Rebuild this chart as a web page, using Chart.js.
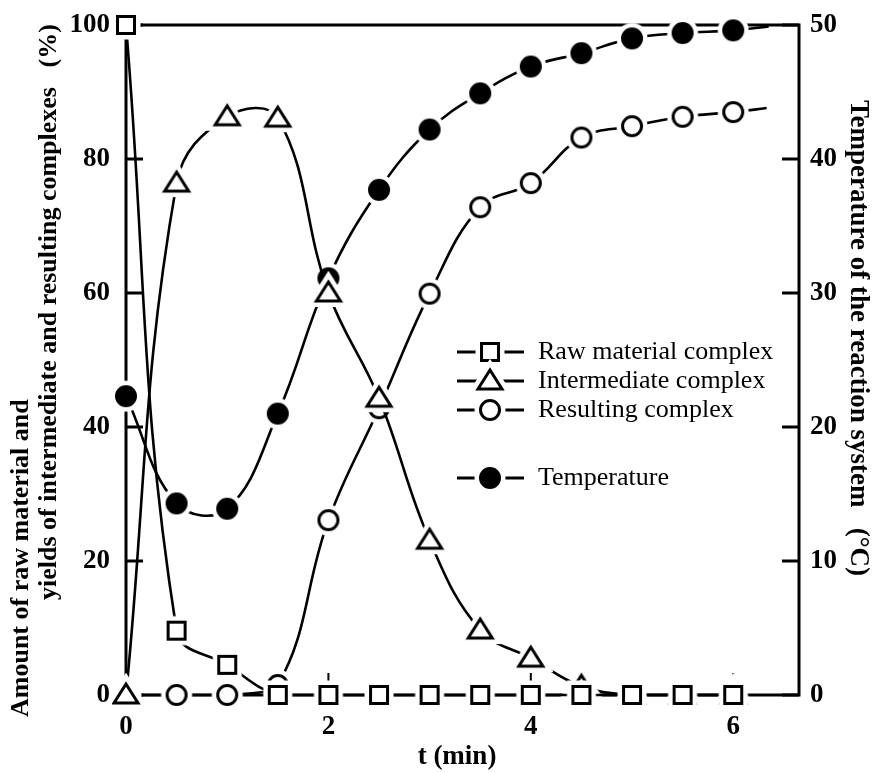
<!DOCTYPE html>
<html>
<head>
<meta charset="utf-8">
<script src="https://cdn.jsdelivr.net/npm/chart.js@4.4.1/dist/chart.umd.min.js"></script>
<style>
  html, body { margin: 0; background: #fff; }
</style>
</head>
<body>
<canvas id="chart" width="872" height="773"></canvas>
<script>
const times = [0, 0.5, 1, 1.5, 2, 2.5, 3, 3.5, 4, 4.5, 5, 5.5, 6];
const rawMaterial = [100, 9.6, 4.5, 0, 0, 0, 0, 0, 0, 0, 0, 0, 0];
const intermediate = [0, 76.4, 86.3, 86.1, 60, 44.3, 23.1, 9.7, 5.5, 1.3, 0, 0, 0];
const resulting = [0, 0, 0, 1.5, 26.1, 42.8, 59.9, 72.8, 76.4, 83.2, 84.9, 86.3, 87.0];
const temperature = [22.3, 14.3, 13.9, 21.0, 31.1, 37.7, 42.2, 44.9, 46.9, 47.9, 49.0, 49.4, 49.6];
// the drawn lines run on a little past the last marker
const resultingTail = { t: 6.33, v: 87.6 };
const temperatureTail = { t: 6.35, v: 49.9 };

const xTicks = [0, 2, 4, 6];
const leftTicks = [0, 20, 40, 60, 80, 100];
const rightTicks = [0, 10, 20, 30, 40, 50];

const legendItems = [
  { label: "Raw material complex", kind: "square" },
  { label: "Intermediate complex", kind: "triangle" },
  { label: "Resulting complex", kind: "circle" },
  { label: "Temperature", kind: "dot" },
];

const SERIF = "'Liberation Serif', 'DejaVu Serif', serif";

// marker bitmaps: a white halo first, so lines stop short of each symbol
function marker(kind) {
  const s = 44;
  const c = document.createElement("canvas");
  c.width = c.height = s;
  const g = c.getContext("2d");
  const m = s / 2;
  const path = () => {
    g.beginPath();
    if (kind === "square") g.rect(m - 8.5, m - 8.5, 17, 17);
    else if (kind === "triangle") {
      g.moveTo(m, m - 11);
      g.lineTo(m + 12, m + 8);
      g.lineTo(m - 12, m + 8);
      g.closePath();
    } else g.arc(m, m, 9.5, 0, Math.PI * 2);
  };
  path();
  g.fillStyle = "#fff";
  g.fill();
  g.strokeStyle = "#fff";
  g.lineWidth = 12;
  g.stroke();
  path();
  g.fillStyle = kind === "dot" ? "#000" : "#fff";
  g.fill();
  g.strokeStyle = "#000";
  g.lineWidth = 3;
  g.stroke();
  return c;
}

const markers = {
  square: marker("square"),
  triangle: marker("triangle"),
  circle: marker("circle"),
  dot: marker("dot"),
};

function series(label, values, kind, axis, tail) {
  const data = times.map((t, i) => ({ x: t, y: values[i] }));
  if (tail) data.push({ x: tail.t, y: tail.v });
  return {
    label,
    data,
    yAxisID: axis,
    borderColor: "#000",
    borderWidth: 2.6,
    tension: 0.4,
    clip: 14,
    pointStyle: markers[kind],
    pointRadius: (ctx) => (ctx.dataIndex < times.length ? 10 : 0),
    pointHoverRadius: (ctx) => (ctx.dataIndex < times.length ? 10 : 0),
  };
}

const frame = {
  id: "frame",
  beforeDatasetsDraw(chart) {
    const { ctx, chartArea: a, scales } = chart;
    ctx.save();
    ctx.strokeStyle = "#000";
    ctx.lineWidth = 3;
    ctx.strokeRect(a.left, a.top, a.right - a.left, a.bottom - a.top);
    ctx.beginPath();
    leftTicks.forEach((v) => {
      const y = scales.y.getPixelForValue(v);
      ctx.moveTo(a.left, y);
      ctx.lineTo(a.left + 17, y);
    });
    rightTicks.forEach((v) => {
      const y = scales.y2.getPixelForValue(v);
      ctx.moveTo(a.right, y);
      ctx.lineTo(a.right - 17, y);
    });
    ctx.stroke();
    ctx.lineWidth = 2;
    ctx.beginPath();
    xTicks.forEach((v) => {
      const x = scales.x.getPixelForValue(v);
      ctx.moveTo(x, a.bottom);
      ctx.lineTo(x, a.bottom - 22);
    });
    ctx.stroke();
    ctx.restore();
  },
};

const texts = {
  id: "texts",
  afterDraw(chart) {
    const { ctx } = chart;
    ctx.save();
    ctx.fillStyle = "#000";
    ctx.textBaseline = "middle";

    ctx.font = `bold 26px ${SERIF}`;
    ctx.save();
    ctx.translate(21, 717);
    ctx.rotate(-Math.PI / 2);
    ctx.textAlign = "left";
    ctx.fillText("Amount of raw material and", 0, 0);
    ctx.restore();
    ctx.save();
    ctx.translate(49, 600);
    ctx.rotate(-Math.PI / 2);
    ctx.textAlign = "left";
    ctx.fillText("yields of intermediate and resulting complexes   (%)", 0, 0);
    ctx.restore();

    ctx.font = `bold 27px ${SERIF}`;
    ctx.save();
    ctx.translate(858, 338);
    ctx.rotate(Math.PI / 2);
    ctx.textAlign = "center";
    ctx.fillText("Temperature of the reaction system   (\u00B0C)", 0, 0);
    ctx.restore();

    ctx.textAlign = "center";
    ctx.fillText("t (min)", 457, 757);

    // legend
    const rows = [352, 381, 410, 478];
    ctx.font = `26px ${SERIF}`;
    ctx.textAlign = "left";
    ctx.lineWidth = 3;
    ctx.strokeStyle = "#000";
    legendItems.forEach((it, i) => {
      const y = rows[i];
      ctx.beginPath();
      ctx.moveTo(457, y);
      ctx.lineTo(524, y);
      ctx.stroke();
      const img = markers[it.kind];
      ctx.drawImage(img, 490 - img.width / 2, y - img.height / 2);
      ctx.fillText(it.label, 538, y);
    });
    ctx.restore();
  },
};

const tickFont = { family: SERIF, size: 27, weight: "bold" };
const noPadY = (w) => (s) => { s.width = w; s.paddingTop = 0; s.paddingBottom = 0; };

new Chart(document.getElementById("chart"), {
  type: "line",
  data: {
    datasets: [
      series("Raw material complex", rawMaterial, "square", "y"),
      series("Intermediate complex", intermediate, "triangle", "y"),
      series("Resulting complex", resulting, "circle", "y", resultingTail),
      series("Temperature", temperature, "dot", "y2", temperatureTail),
    ],
  },
  options: {
    responsive: false,
    animation: false,
    layout: { padding: { top: 25, left: 0, right: 0, bottom: 0 } },
    plugins: { legend: { display: false }, tooltip: { enabled: false } },
    scales: {
      x: {
        type: "linear",
        min: 0,
        max: 6.65,
        afterBuildTicks: (s) => { s.ticks = xTicks.map((v) => ({ value: v })); },
        afterFit: (s) => { s.height = 78; s.paddingLeft = 0; s.paddingRight = 0; },
        grid: { display: false, drawTicks: false },
        border: { display: false },
        ticks: { color: "#000", font: tickFont, padding: 16, maxRotation: 0 },
      },
      y: {
        position: "left",
        min: 0,
        max: 100,
        afterBuildTicks: (s) => { s.ticks = leftTicks.map((v) => ({ value: v })); },
        afterFit: noPadY(126),
        grid: { display: false, drawTicks: false },
        border: { display: false },
        ticks: { color: "#000", font: tickFont, padding: 16 },
      },
      y2: {
        position: "right",
        min: 0,
        max: 50,
        afterBuildTicks: (s) => { s.ticks = rightTicks.map((v) => ({ value: v })); },
        afterFit: noPadY(73),
        grid: { display: false, drawTicks: false },
        border: { display: false },
        ticks: { color: "#000", font: tickFont, padding: 11 },
      },
    },
  },
  plugins: [frame, texts],
});
</script>
</body>
</html>
